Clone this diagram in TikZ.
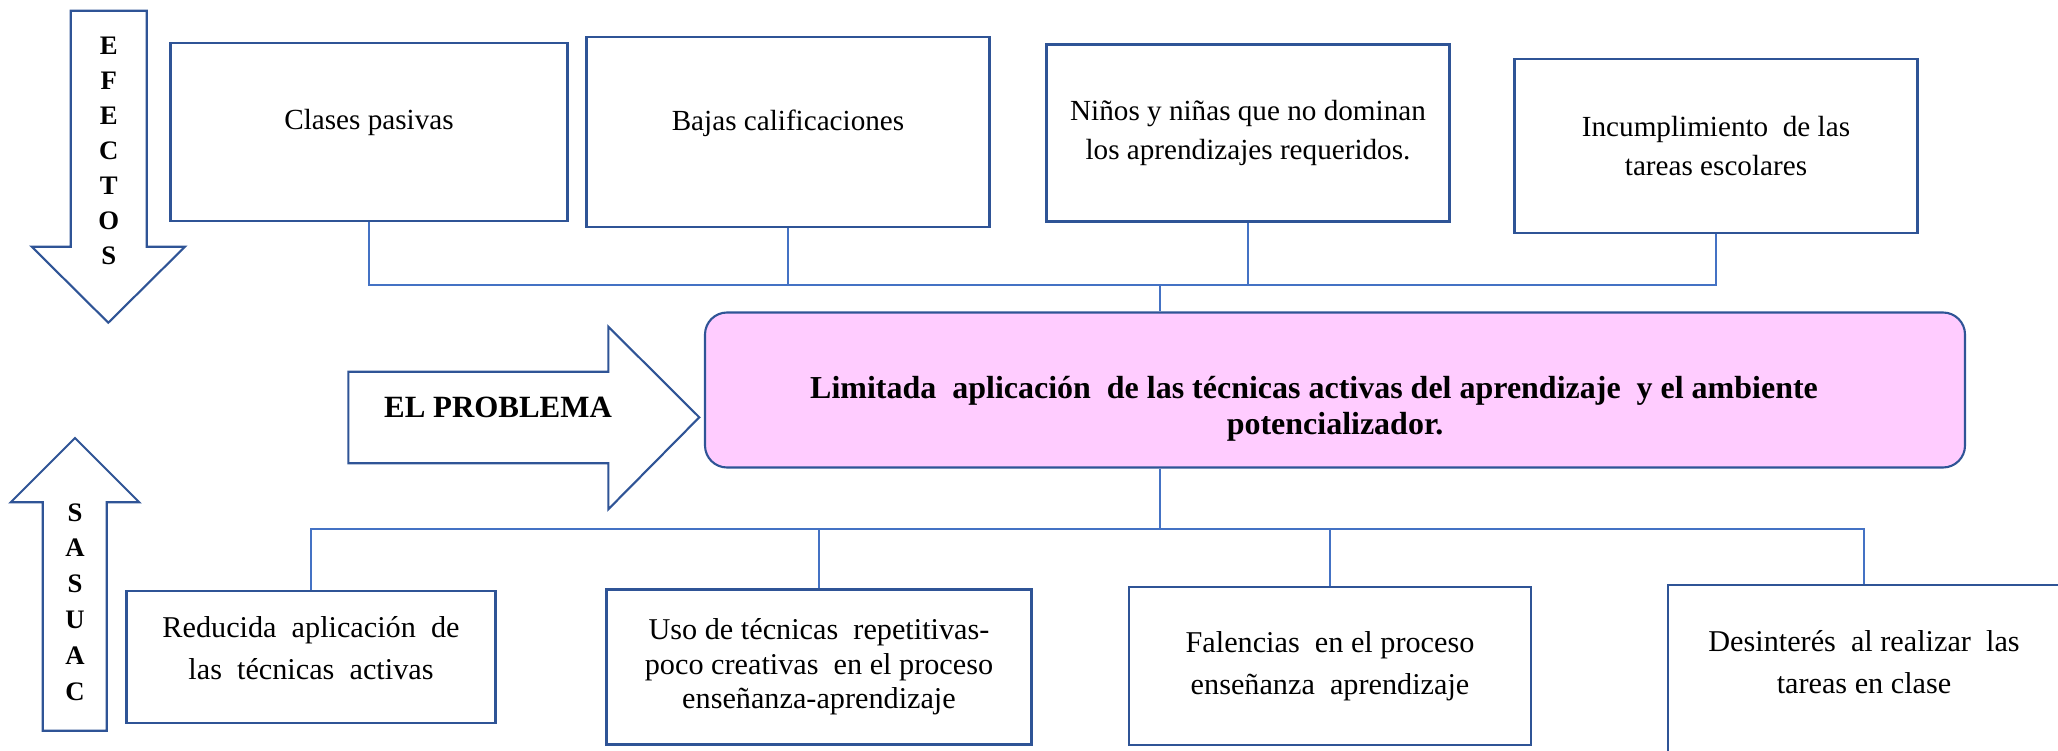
\documentclass[tikz,border=0pt]{standalone}
\usepackage{fontspec}
\setmainfont{Liberation Serif}
\usepackage{tikz}
\usepackage{xcolor}
\definecolor{borde}{HTML}{2F5496}
\definecolor{linea}{HTML}{4472C4}
\definecolor{rosa}{HTML}{FFCCFF}

\begin{document}
\begin{tikzpicture}[
    caja/.style={draw=borde, line width=0.6pt, align=center, inner sep=2pt, font=\fontsize{8.3}{11}\selectfont},
    causa/.style={caja, font=\fontsize{8.6}{11.8}\selectfont},
    conector/.style={draw=linea, line width=0.5pt},
    flecha/.style={draw=borde, line width=0.6pt, fill=white},
    letras/.style={align=center, inner sep=0pt, font=\bfseries\fontsize{7.6}{9.95}\selectfont}
  ]
  \useasboundingbox (0,0) rectangle (20.58,7.5);

  % Flecha EFECTOS
  \draw[flecha] (0.707,7.393) -- (1.467,7.393) -- (1.467,5.033) -- (1.85,5.033)
    -- (1.083,4.273) -- (0.317,5.033) -- (0.707,5.033) -- cycle;
  \node[letras] (efectos) at (1.087,5.99) {E\\F\\E\\C\\T\\O\\S};

  % Flecha CAUSAS
  \draw[flecha] (0.427,0.193) -- (1.067,0.193) -- (1.067,2.477) -- (1.393,2.477)
    -- (0.75,3.12) -- (0.107,2.477) -- (0.427,2.477) -- cycle;
  \node[letras, font=\bfseries\fontsize{7.6}{10.2}\selectfont] (causas) at (0.75,1.48) {S\\A\\S\\U\\A\\C};

  % Flecha EL PROBLEMA
  \draw[flecha] (3.483,3.783) -- (6.083,3.783) -- (6.083,4.233) -- (6.993,3.327)
    -- (6.083,2.407) -- (6.083,2.867) -- (3.483,2.867) -- cycle;
  \node[font=\bfseries\fontsize{8.8}{10}\selectfont] (etiqueta) at (4.98,3.43) {EL PROBLEMA};

  % Efectos
  \node[caja, minimum width=3.97cm, minimum height=1.78cm, text depth=6.9pt] (ef1) at (3.69,6.18) {Clases pasivas};
  \node[caja, minimum width=4.03cm, minimum height=1.90cm, text depth=6.9pt] (ef2) at (7.88,6.18) {Bajas calificaciones};
  \node[caja, minimum width=4.03cm, minimum height=1.77cm] (ef3) at (12.48,6.17) {Niños y niñas que no dominan\\los aprendizajes requeridos.};
  \node[caja, minimum width=4.03cm, minimum height=1.74cm] (ef4) at (17.16,6.04) {Incumplimiento\ \ de las\\tareas escolares};

  % Problema central
  \node[caja, fill=rosa, rounded corners=0.22cm, minimum width=12.6cm, minimum height=1.55cm] (problema) at (13.35,3.60) {};
  \node[align=center, font=\bfseries\fontsize{9.1}{10.2}\selectfont] (problematexto) at ([yshift=-0.19cm]problema.center)
    {Limitada\ \ aplicación\ \ de las técnicas activas del aprendizaje\ \ y el ambiente\hspace*{0.42cm}\\potencializador.};

  % Causas
  \node[causa, minimum width=3.69cm, minimum height=1.32cm, text depth=5.1pt] (ca1) at (3.11,0.93) {Reducida\ \ aplicación\ \ de\\las\ \ técnicas\ \ activas};
  \node[causa, minimum width=4.25cm, minimum height=1.55cm, font=\fontsize{8.6}{9.8}\selectfont] (ca2) at (8.19,0.83) {Uso de técnicas\ \ repetitivas-\\poco creativas\ \ en el proceso\\enseñanza-aprendizaje};
  \node[causa, minimum width=4.02cm, minimum height=1.58cm] (ca3) at (13.30,0.84) {Falencias\ \ en el proceso\\enseñanza\ \ aprendizaje};
  \node[causa, minimum width=3.92cm, minimum height=1.70cm, text depth=4.5pt] (ca4) at (18.64,0.80) {Desinterés\ \ al realizar\ \ las\\tareas en clase};

  % Conectores
  \coordinate (bussup) at (0,4.65);
  \coordinate (businf) at (0,2.21);
  \coordinate (eje) at (11.6,0);
  \draw[conector] (ef1.south) -- (ef1.south |- bussup) -- (ef4.south |- bussup) -- (ef4.south);
  \draw[conector] (ef2.south) -- (ef2.south |- bussup);
  \draw[conector] (ef3.south) -- (ef3.south |- bussup);
  \draw[conector] (problema.north -| eje) -- (eje |- bussup);
  \draw[conector] (problema.south -| eje) -- (eje |- businf);
  \draw[conector] (ca1.north) -- (ca1.north |- businf) -- (ca4.north |- businf) -- (ca4.north);
  \draw[conector] (ca2.north) -- (ca2.north |- businf);
  \draw[conector] (ca3.north) -- (ca3.north |- businf);
\end{tikzpicture}
\end{document}
